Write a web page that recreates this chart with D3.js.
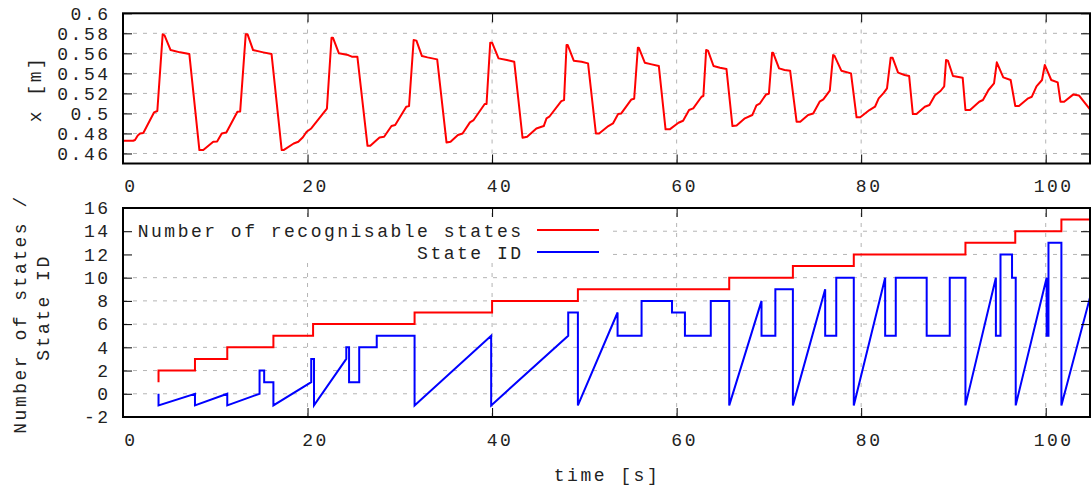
<!DOCTYPE html>
<html>
<head>
<meta charset="utf-8">
<script src="https://cdn.jsdelivr.net/npm/d3@7"></script>
<style>
  body { margin: 0; background: #fff; }
  svg text { font-family: "Liberation Mono", "DejaVu Sans Mono", monospace; font-size: 18px; letter-spacing: 2.5px; fill: #222; }
</style>
</head>
<body>
<svg id="chart" width="1091" height="488"></svg>
<script>
// tick values
const timeTicks = [0, 20, 40, 60, 80, 100];
const posTicks = [0.46, 0.48, 0.5, 0.52, 0.54, 0.56, 0.58, 0.6];
const stateTicks = [-2, 0, 2, 4, 6, 8, 10, 12, 14, 16];

// x [m] over time [s]
const position = [
  [0, 0.4727], [1.1, 0.4727], [1.3, 0.4735], [1.6, 0.478], [1.85, 0.480], [2.2, 0.4805],
  [3.36, 0.501], [3.72, 0.5024], [4.3, 0.579], [4.5, 0.578], [5.16, 0.5633], [6.18, 0.561],
  [7.19, 0.5593], [8.28, 0.4634], [8.7, 0.4634], [9.78, 0.4717], [10.2, 0.472], [10.7, 0.48],
  [11.2, 0.481], [12.4, 0.5017], [12.7, 0.502], [13.3, 0.579], [13.5, 0.579], [14.1, 0.5633],
  [15.2, 0.561], [16.1, 0.5593], [17.2, 0.4634], [17.4, 0.4634], [18.5, 0.470], [19.0, 0.4717],
  [19.5, 0.4762], [19.9, 0.4817], [20.4, 0.485], [22.1, 0.5047], [22.6, 0.5756], [22.75, 0.5756],
  [23.4, 0.56], [24.4, 0.5583], [24.8, 0.5567], [25.4, 0.5567], [26.5, 0.4677], [26.8, 0.4677],
  [27.8, 0.476], [28.3, 0.4767], [29.1, 0.4874], [29.5, 0.4884], [30.7, 0.5067], [31.0, 0.5073],
  [31.5, 0.5733], [31.8, 0.5727], [32.4, 0.5573], [33.0, 0.556], [34.05, 0.554], [35.06, 0.471],
  [35.5, 0.4717], [36.3, 0.4784], [36.8, 0.480], [37.6, 0.4911], [38.0, 0.4934], [39.2, 0.5094],
  [39.4, 0.5094], [39.8, 0.5707], [40.0, 0.5707], [40.7, 0.555], [41.6, 0.5534], [42.4, 0.5517],
  [43.3, 0.4757], [43.8, 0.4767], [44.8, 0.485], [45.6, 0.4874], [45.9, 0.4951], [46.2, 0.4967],
  [47.5, 0.5123], [47.8, 0.5133], [48.07, 0.5683], [48.2, 0.5683], [48.85, 0.5527], [49.7, 0.5517],
  [50.4, 0.55], [51.25, 0.48], [51.6, 0.48], [52.6, 0.4874], [53.1, 0.490], [53.66, 0.4994],
  [54.0, 0.5], [55.1, 0.514], [55.4, 0.5147], [55.8, 0.5657], [55.9, 0.5657], [56.55, 0.5507],
  [57.3, 0.549], [58.07, 0.5474], [58.8, 0.4841], [59.25, 0.4841], [60.2, 0.4907], [60.7, 0.4927],
  [61.35, 0.5034], [61.8, 0.505], [62.7, 0.5167], [62.9, 0.5174], [63.2, 0.5633], [63.4, 0.5627],
  [64.0, 0.5474], [64.7, 0.5457], [65.4, 0.5444], [66.05, 0.4874], [66.5, 0.488], [67.4, 0.4951],
  [68.2, 0.4984], [68.65, 0.508], [69.0, 0.5097], [69.7, 0.519], [70.0, 0.5197], [70.35, 0.5607],
  [70.45, 0.5607], [71.1, 0.545], [71.7, 0.5434], [72.3, 0.5427], [73.0, 0.4917], [73.4, 0.4917],
  [74.25, 0.4984], [74.8, 0.5], [75.5, 0.5117], [75.9, 0.514], [76.6, 0.5227], [76.96, 0.5583],
  [77.1, 0.5577], [77.85, 0.5427], [78.9, 0.54], [79.5, 0.4961], [79.9, 0.4961], [80.9, 0.5034],
  [81.5, 0.5067], [81.9, 0.5151], [82.4, 0.52], [82.8, 0.525], [83.2, 0.5557], [83.4, 0.5557],
  [84.0, 0.5407], [84.7, 0.5384], [85.2, 0.5374], [85.6, 0.4994], [86.0, 0.4994], [86.9, 0.5067],
  [87.4, 0.5084], [88.0, 0.5181], [88.6, 0.5224], [89.0, 0.5271], [89.2, 0.5533], [89.4, 0.5527],
  [89.95, 0.5374], [91.0, 0.5357], [91.3, 0.5034], [91.8, 0.5034], [92.8, 0.5117], [93.2, 0.5134],
  [93.8, 0.5234], [94.4, 0.5301], [94.7, 0.551], [95.4, 0.536], [96.2, 0.5334], [96.7, 0.5074],
  [97.1, 0.5074], [98.1, 0.5151], [98.5, 0.5167], [99.0, 0.5271], [99.6, 0.5334], [99.9, 0.5484],
  [100.6, 0.5334], [101.3, 0.531], [101.6, 0.5117], [102.0, 0.5117], [103.0, 0.519], [103.6, 0.518],
  [104.8, 0.504]
];

// number of recognisable states (step after)
const stateCount = [
  [3.85, 1], [3.85, 2], [7.8, 3], [11.3, 4], [16.3, 5], [20.6, 6], [31.6, 7], [40.0, 8],
  [49.3, 9], [65.7, 10], [72.6, 11], [79.2, 12], [91.3, 13], [96.7, 14], [101.7, 15], [104.8, 15]
];

// state ID
const stateId = [
  [3.85, 0], [3.85, -1], [7.8, 0], [7.8, -1], [11.3, 0], [11.3, -1], [14.8, 0], [14.8, 2],
  [15.3, 2], [15.3, 1], [16.3, 1], [16.3, -1], [20.4, 1], [20.4, 3], [20.7, 3], [20.7, -1],
  [24.2, 3], [24.2, 4], [24.5, 4], [24.5, 1], [25.6, 1], [25.6, 4], [27.5, 4], [27.5, 5],
  [31.6, 5], [31.6, -1], [39.9, 5], [39.9, -1], [48.25, 5], [48.25, 7], [49.3, 7], [49.3, -1],
  [53.6, 7], [53.6, 5], [56.2, 5], [56.2, 8], [59.5, 8], [59.5, 7], [60.9, 7], [60.9, 5],
  [63.7, 5], [63.7, 8], [65.7, 8], [65.7, -1], [69.2, 8], [69.2, 5], [70.7, 5], [70.7, 9],
  [72.6, 9], [72.6, -1], [76.1, 9], [76.1, 5], [77.3, 5], [77.3, 10], [79.2, 10], [79.2, -1],
  [82.6, 10], [82.6, 5], [83.75, 5], [83.75, 10], [87.1, 10], [87.1, 5], [89.6, 5], [89.6, 10],
  [91.3, 10], [91.3, -1], [94.6, 10], [94.6, 5], [95.1, 5], [95.1, 12], [96.35, 12], [96.35, 10],
  [96.75, 10], [96.75, -1], [100.1, 10], [100.1, 5], [100.3, 5], [100.3, 13], [101.7, 13],
  [101.7, -1], [104.8, 8.3]
];

const legendLabels = ["Number of recognisable states", "State ID"];

const svg = d3.select("#chart");
const left = 123, right = 1090;

const x = d3.scaleLinear([0, 104.8], [left, right]);
const yTop = d3.scaleLinear([0.45, 0.6], [163.5, 13.3]);
const yBot = d3.scaleLinear([-2, 16], [417, 208]);

const fmt = d => String(+d.toFixed(2));

function grid(g, y, yTicks) {
    const [y0, y1] = y.range();
    g.selectAll(".hg").data(yTicks).join("line")
        .attr("class", "hg")
        .attr("x1", left).attr("x2", right)
        .attr("y1", d => y(d)).attr("y2", d => y(d));
    g.selectAll(".vg").data(timeTicks).join("line")
        .attr("class", "vg")
        .attr("x1", d => x(d)).attr("x2", d => x(d))
        .attr("y1", y0).attr("y2", y1);
    g.selectAll("line")
        .attr("stroke", "#b4b4b4")
        .attr("stroke-width", 1)
        .attr("stroke-dasharray", "4,6");
}

function axes(g, y, yTicks) {
    const [y0, y1] = y.range();
    const clean = s => s.call(a => a.select(".domain").remove())
        .attr("font-size", null).attr("font-family", null).attr("color", "#000");

    g.append("g").attr("transform", `translate(${left},0)`)
        .call(d3.axisLeft(y).tickValues(yTicks).tickSize(-9).tickPadding(12.5).tickFormat(fmt))
        .call(clean);
    g.append("g").attr("transform", `translate(${right},0)`)
        .call(d3.axisRight(y).tickValues(yTicks).tickSize(-9).tickFormat(""))
        .call(clean);
    g.append("g").attr("transform", `translate(0,${y0})`)
        .call(d3.axisBottom(x).tickValues(timeTicks).tickSize(-9).tickPadding(16))
        .call(clean)
        .selectAll("text").attr("dx", 7.5);
    g.append("g").attr("transform", `translate(0,${y1})`)
        .call(d3.axisTop(x).tickValues(timeTicks).tickSize(-9).tickFormat(""))
        .call(clean);

    g.append("rect")
        .attr("x", left).attr("y", y1)
        .attr("width", right - left).attr("height", y0 - y1)
        .attr("fill", "none").attr("stroke", "#000").attr("stroke-width", 2);
}

// clip paths
[["clipTop", yTop], ["clipBot", yBot]].forEach(([id, y]) => {
    svg.append("clipPath").attr("id", id).append("rect")
        .attr("x", left).attr("y", y.range()[1])
        .attr("width", right - left).attr("height", y.range()[0] - y.range()[1]);
});

// ---- top panel
const topPanel = svg.append("g");
topPanel.append("g").call(grid, yTop, posTicks);

topPanel.append("path")
    .attr("clip-path", "url(#clipTop)")
    .attr("fill", "none")
    .attr("stroke", "#ff0000")
    .attr("stroke-width", 2)
    .attr("stroke-linejoin", "round")
    .attr("d", d3.line().x(d => x(d[0])).y(d => yTop(d[1]))(position));

topPanel.call(axes, yTop, posTicks);

topPanel.append("text")
    .attr("transform", "translate(41,89) rotate(-90)")
    .attr("text-anchor", "middle")
    .text("x [m]");

// ---- bottom panel
const botPanel = svg.append("g");
botPanel.append("g").call(grid, yBot, stateTicks);

// opaque key box
botPanel.append("rect")
    .attr("x", left + 1).attr("y", 219)
    .attr("width", 606 - left).attr("height", 44)
    .attr("fill", "#fff");

botPanel.append("path")
    .attr("clip-path", "url(#clipBot)")
    .attr("fill", "none")
    .attr("stroke", "#ff0000")
    .attr("stroke-width", 2)
    .attr("d", d3.line().curve(d3.curveStepAfter).x(d => x(d[0])).y(d => yBot(d[1]))(stateCount));

botPanel.append("path")
    .attr("clip-path", "url(#clipBot)")
    .attr("fill", "none")
    .attr("stroke", "#0000ff")
    .attr("stroke-width", 2)
    .attr("d", d3.line().x(d => x(d[0])).y(d => yBot(d[1]))(stateId));

botPanel.call(axes, yBot, stateTicks);

// key
const keyColors = ["#ff0000", "#0000ff"];
const key = botPanel.append("g");
legendLabels.forEach((label, i) => {
    const ky = 230 + i * 22;
    key.append("text")
        .attr("x", 523.5).attr("y", ky + 6.5)
        .attr("text-anchor", "end")
        .text(label);
    key.append("line")
        .attr("x1", 537).attr("x2", 599)
        .attr("y1", ky).attr("y2", ky)
        .attr("stroke", keyColors[i]).attr("stroke-width", 2);
});

botPanel.append("text")
    .attr("transform", "translate(26,314) rotate(-90)")
    .attr("text-anchor", "middle")
    .text("Number of states /");
botPanel.append("text")
    .attr("transform", "translate(49,307.5) rotate(-90)")
    .attr("text-anchor", "middle")
    .text("State ID");

svg.append("text")
    .attr("x", 607).attr("y", 481)
    .attr("text-anchor", "middle")
    .text("time [s]");
</script>
</body>
</html>
